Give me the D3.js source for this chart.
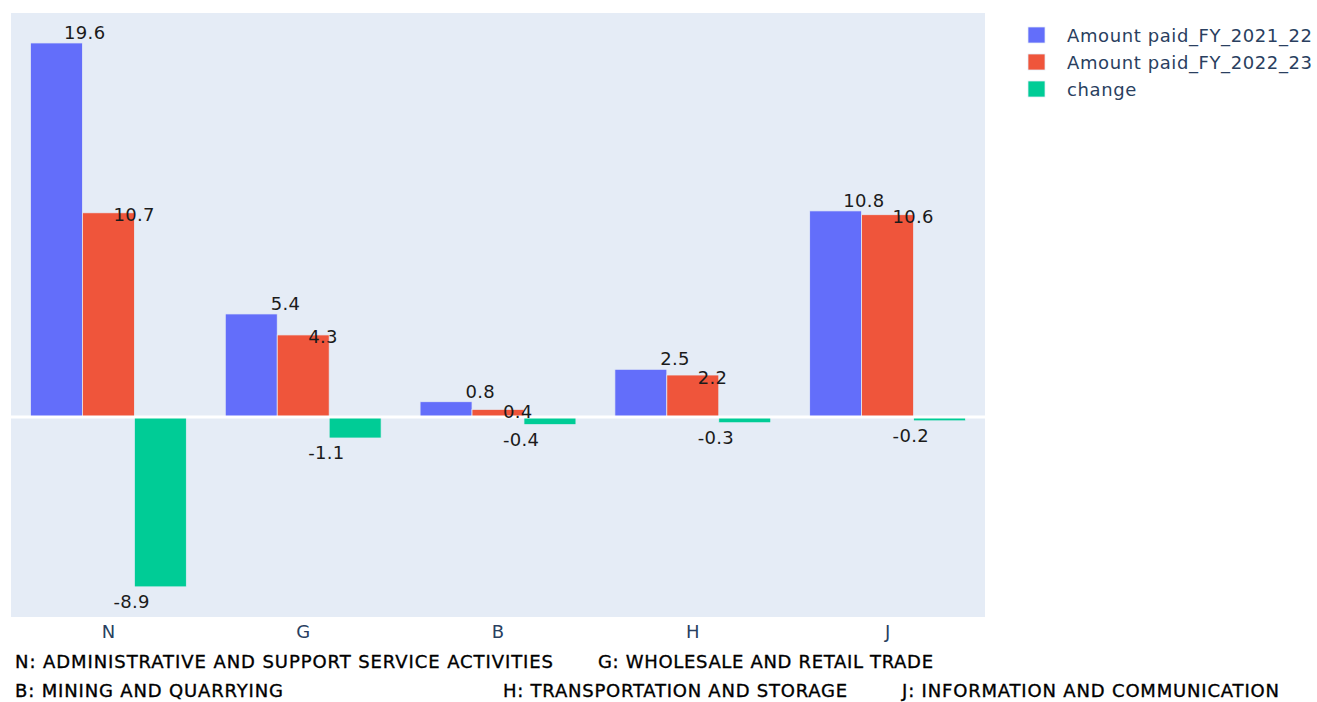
<!DOCTYPE html>
<html>
<head>
<meta charset="utf-8">
<script src="https://cdn.jsdelivr.net/npm/d3@7"></script>
<style>
  html, body { margin: 0; padding: 0; background: #fff; }
  svg { display: block; font-family: Verdana, "DejaVu Sans", sans-serif; }
</style>
</head>
<body>
<svg id="chart" width="1317" height="702"></svg>
<script>
// ---- data ----
const categories = ["N", "G", "B", "H", "J"];
const seriesNames = ["Amount paid_FY_2021_22", "Amount paid_FY_2022_23", "change"];
const amountFY2122 = [19.6, 5.4, 0.8, 2.5, 10.8];
const amountFY2223 = [10.7, 4.3, 0.4, 2.2, 10.6];
const changeValues = [-8.9, -1.1, -0.4, -0.3, -0.2];
const yRange = [-10.48, 21.17];
const footnoteTexts = [
  "N: ADMINISTRATIVE AND SUPPORT SERVICE ACTIVITIES",
  "G: WHOLESALE AND RETAIL TRADE",
  "B: MINING AND QUARRYING",
  "H: TRANSPORTATION AND STORAGE",
  "J: INFORMATION AND COMMUNICATION"
];

// ---- layout / style ----
const colors = ["#636efa", "#EF553B", "#00cc96"];
const plot = { left: 11, right: 985, top: 13, bottom: 617 };
const footnoteLayout = [
  { x: 15, y: 661, w: 538 },
  { x: 598, y: 661, w: 335 },
  { x: 15, y: 690, w: 268 },
  { x: 503, y: 690, w: 344 },
  { x: 902, y: 690, w: 377 }
];
const seriesValues = [amountFY2122, amountFY2223, changeValues];

const svg = d3.select("#chart");
svg.append("rect").attr("width", 1317).attr("height", 702).attr("fill", "#fff");

const x0 = d3.scaleBand().domain(categories).range([plot.left, plot.right])
  .paddingInner(0.2).paddingOuter(0.1);
const x1 = d3.scaleBand().domain(d3.range(seriesNames.length)).range([0, x0.bandwidth()]);
const y = d3.scaleLinear().domain(yRange).range([plot.bottom, plot.top]);

// plot background
svg.append("rect")
  .attr("x", plot.left).attr("y", plot.top)
  .attr("width", plot.right - plot.left).attr("height", plot.bottom - plot.top)
  .attr("fill", "#E5ECF6");

// bars
const rows = [];
categories.forEach((c, i) => {
  seriesValues.forEach((vals, s) => rows.push({ c, s, v: vals[i] }));
});

svg.append("g").selectAll("rect").data(rows).join("rect")
  .attr("x", d => x0(d.c) + x1(d.s))
  .attr("width", x1.bandwidth())
  .attr("y", d => y(Math.max(0, d.v)))
  .attr("height", d => Math.abs(y(d.v) - y(0)))
  .attr("fill", d => colors[d.s])
  .attr("stroke", "#E5ECF6")
  .attr("stroke-width", 0.75);

// zero line
svg.append("line")
  .attr("x1", plot.left).attr("x2", plot.right)
  .attr("y1", y(0)).attr("y2", y(0))
  .attr("stroke", "#fff").attr("stroke-width", 3);

// x axis labels
const xAxis = d3.axisBottom(x0).tickSize(0).tickPadding(0);
const gx = svg.append("g").attr("transform", `translate(0,${plot.bottom})`).call(xAxis);
gx.select(".domain").remove();
gx.selectAll("text")
  .attr("font-size", 18).attr("fill", "#2a3f5f")
  .attr("font-family", 'Verdana, "DejaVu Sans", sans-serif')
  .attr("dy", null).attr("y", 20.6);

// value labels
svg.append("g").selectAll("text").data(rows).join("text")
  .attr("font-size", 18)
  .attr("fill", "#1b1b1b")
  .attr("letter-spacing", 0.3)
  .attr("text-anchor", d => d.s === 0 ? "end" : "start")
  .attr("x", d => x0(d.c) + x0.bandwidth() / 2 + (d.s === 0 ? -3 : 5))
  .attr("y", d => d.s === 0 ? y(d.v) - 4 : d.s === 1 ? y(d.v) + 8.5 : y(d.v) + 21.5)
  .text(d => d.v.toFixed(1));

// legend
const legend = svg.append("g");
seriesNames.forEach((name, i) => {
  const cy = 35 + i * 27;
  legend.append("rect")
    .attr("x", 1028).attr("y", cy - 8).attr("width", 17).attr("height", 16)
    .attr("fill", colors[i]).attr("stroke", "#E5ECF6").attr("stroke-width", 0.75);
  legend.append("text")
    .attr("x", 1067).attr("y", cy + 6.5)
    .attr("font-size", 18).attr("fill", "#2a3f5f")
    .attr("letter-spacing", 0.6)
    .text(name);
});

// footnotes
svg.append("g").selectAll("text").data(footnoteTexts).join("text")
  .attr("x", (d, i) => footnoteLayout[i].x)
  .attr("y", (d, i) => footnoteLayout[i].y + 6.5)
  .attr("font-size", 18)
  .attr("fill", "#000")
  .attr("stroke", "#000")
  .attr("stroke-width", 0.35)
  .attr("textLength", (d, i) => footnoteLayout[i].w)
  .attr("lengthAdjust", "spacing")
  .text(d => d);
</script>
</body>
</html>
